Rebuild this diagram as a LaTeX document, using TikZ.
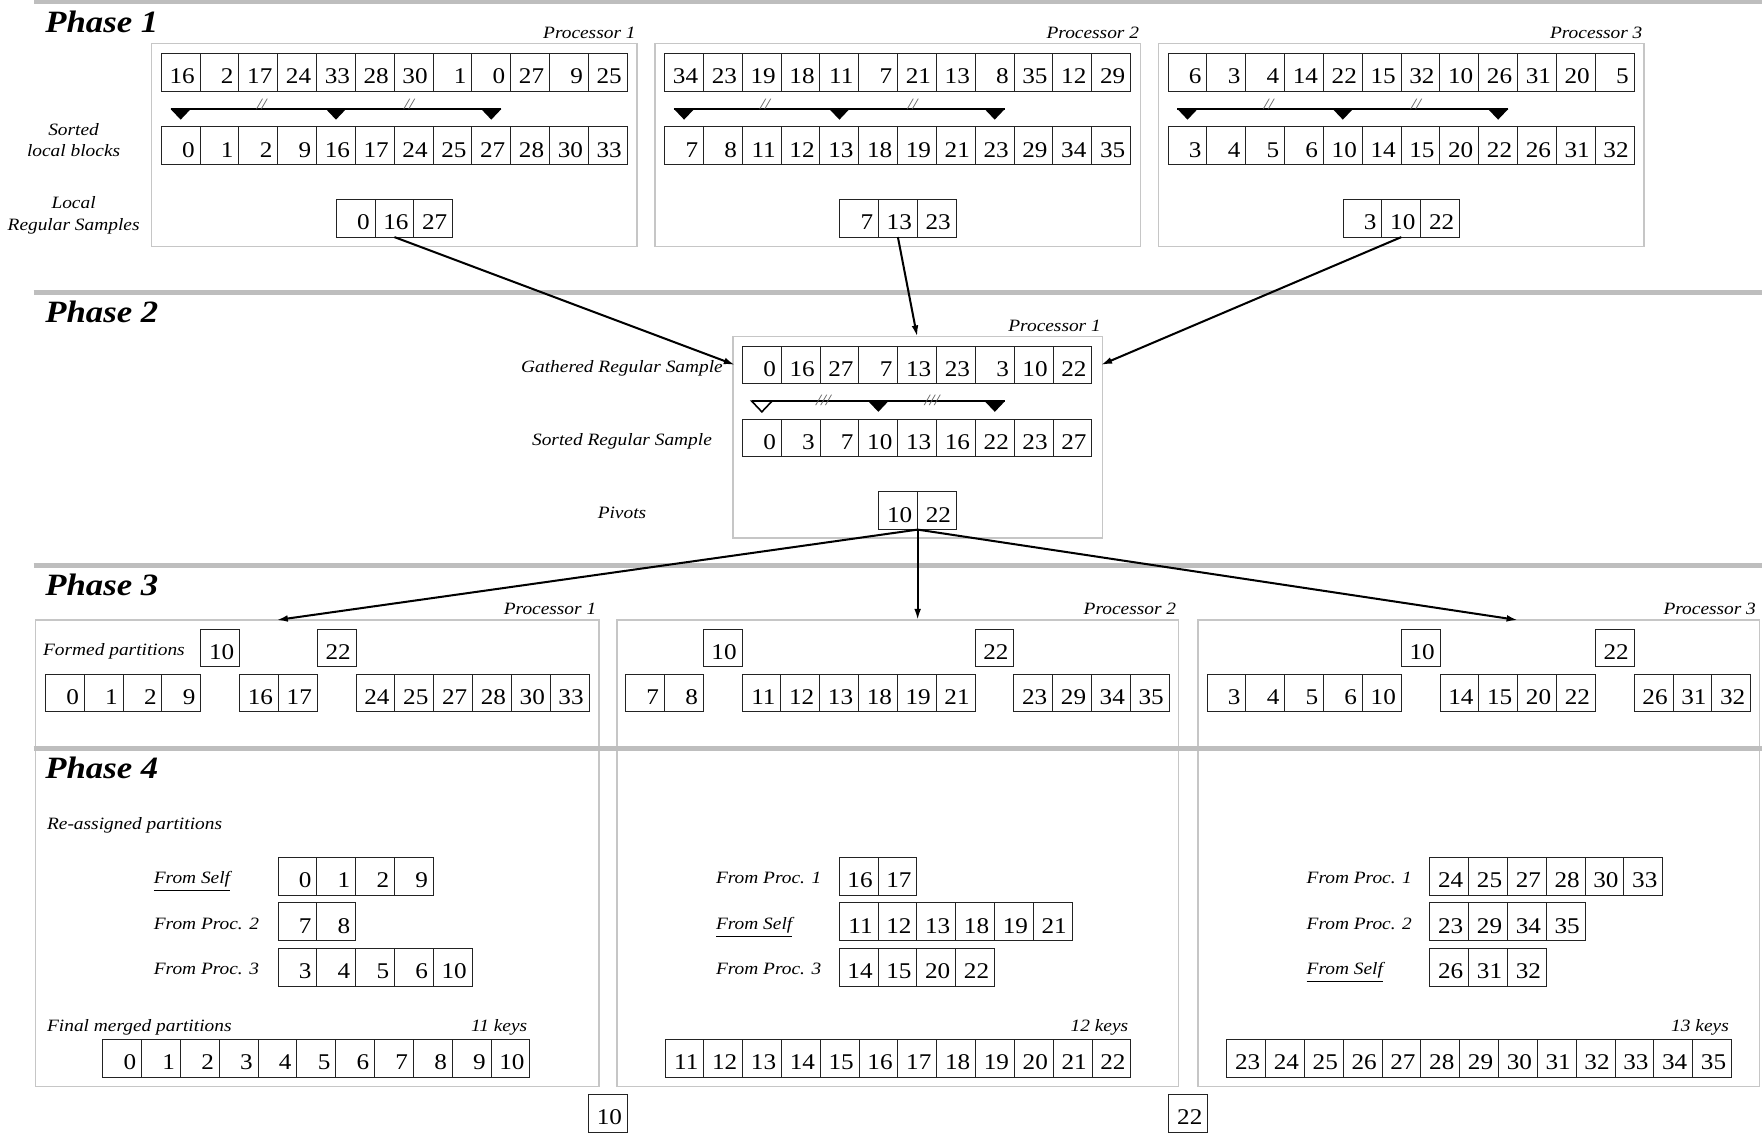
\documentclass[tikz,border=0pt]{standalone}
\usepackage{fontspec}
\setmainfont{Liberation Serif}[FakeStretch=1.12]
\usetikzlibrary{calc,arrows.meta}

\definecolor{phasegray}{RGB}{190,190,190}
\definecolor{boxgray}{RGB}{198,198,198}
\definecolor{cellgray}{RGB}{35,35,35}
\definecolor{slashgray}{RGB}{90,90,90}

\tikzset{
  keycell/.style={draw=cellgray, line width=0.45pt, anchor=north west,
    minimum width=17.275pt, minimum height=16.75pt, inner xsep=2.4pt, inner ysep=0pt, outer sep=0pt,
    text width=12.475pt, align=right, text height=10.15pt, text depth=0pt,
    font=\fontsize{10}{12}\selectfont},
  procbox/.style={draw=boxgray, line width=0.6pt, anchor=north west, inner sep=0pt, outer sep=0pt},
  phaseln/.style={draw=phasegray, line width=2.2pt},
  phasetitle/.style={font=\bfseries\itshape\fontsize{13.8}{16}\selectfont, inner sep=0pt, anchor=base west},
  lab/.style={font=\itshape\fontsize{7.7}{9.5}\selectfont, inner sep=0pt},
  markline/.style={draw=black, line width=1pt},
  slashmark/.style={font=\itshape\fontsize{7}{7}\selectfont, text=slashgray, inner sep=0pt},
  arr/.style={draw=black, line width=0.9pt, -{Latex[length=5pt,width=3pt]}},
}

\newcommand{\keyrow}[4]{%
  \foreach \kv [count=\ki from 0] in {#4}{%
    \node[keycell] (#1-\ki) at ({#2+34.55*\ki},#3) {\kv};
  }%
}

\newcommand{\markbar}[7]{%
  \coordinate (#1-m0) at ($(#1-#2.north)+(0,-16)$);
  \coordinate (#1-m1) at ($(#1-#3.north)+(0,-16)$);
  \coordinate (#1-m2) at ($(#1-#4.north)+(0,-16)$);
  \draw[markline] ($(#1-m0)+(-9,0)$) -- ($(#1-m2)+(9,0)$);
  \path[#6] ($(#1-m0)+(-9,0)$) -- ($(#1-m0)+(9,0)$) -- ($(#1-m0)+(0,9.5)$) -- cycle;
  \fill ($(#1-m1)+(-9,0)$) -- ($(#1-m1)+(9,0)$) -- ($(#1-m1)+(0,9.5)$) -- cycle;
  \fill ($(#1-m2)+(-9,0)$) -- ($(#1-m2)+(9,0)$) -- ($(#1-m2)+(0,9.5)$) -- cycle;
  \node[slashmark] at ($(#1-m0)!0.5!(#1-m1)+(3,#7)$) {#5};
  \node[slashmark] at ($(#1-m1)!0.5!(#1-m2)+(-4,#7)$) {#5};
}

\begin{document}
\begin{tikzpicture}[x=0.5pt,y=-0.5pt]
\useasboundingbox (0,0) rectangle (1568,1021);

% ---------- processor boxes ----------
\node[procbox, minimum width=216pt, minimum height=90.25pt] (PA) at (135,39) {};
\node[procbox, minimum width=216pt, minimum height=90.25pt] (PB) at (583,39) {};
\node[procbox, minimum width=216pt, minimum height=90.25pt] (PC) at (1031,39) {};
\node[procbox, minimum width=164.35pt, minimum height=89.6pt] (QA) at (652.3,299.6) {};
\node[procbox, minimum width=250.65pt, minimum height=207.6pt] (RA) at (31.7,551.8) {};
\node[procbox, minimum width=250pt, minimum height=207.6pt] (RB) at (549,551.8) {};
\node[procbox, minimum width=250pt, minimum height=207.6pt] (RC) at (1066,551.8) {};

% ---------- phase separators ----------
\draw[phaseln] (30,1.5) -- (1568,1.5);
\draw[phaseln] (30,260) -- (1568,260);
\draw[phaseln] (30,503) -- (1568,503);
\draw[phaseln] (30,666) -- (1568,666);

\node[phasetitle] (T1) at (40,28.5) {Phase 1};
\node[phasetitle] (T2) at (40,287) {Phase 2};
\node[phasetitle] (T3) at (40,530) {Phase 3};
\node[phasetitle] (T4) at (40,693) {Phase 4};

% ---------- processor labels ----------
\node[lab, anchor=base east] (LA) at (566,34) {Processor 1};
\node[lab, anchor=base east] (LB) at (1014,34) {Processor 2};
\node[lab, anchor=base east] (LC) at (1462,34) {Processor 3};
\node[lab, anchor=base east] (LQ) at (980,294.6) {Processor 1};
\node[lab, anchor=base east] (LRA) at (531,546.8) {Processor 1};
\node[lab, anchor=base east] (LRB) at (1047,546.8) {Processor 2};
\node[lab, anchor=base east] (LRC) at (1563,546.8) {Processor 3};

% ---------- Phase 1 ----------
\node[lab, anchor=base] (s1) at (65.5,121) {Sorted};
\node[lab, anchor=base] (s2) at (65.5,139.5) {local blocks};
\node[lab, anchor=base] (s3) at (65.5,185.4) {Local};
\node[lab, anchor=base] (s4) at (65.5,204.7) {Regular Samples};

\keyrow{aU}{143.5}{47.5}{16,2,17,24,33,28,30,1,0,27,9,25}
\keyrow{aS}{143.5}{113}{0,1,2,9,16,17,24,25,27,28,30,33}
\keyrow{aR}{299.2}{177.5}{0,16,27}
\keyrow{bU}{591.5}{47.5}{34,23,19,18,11,7,21,13,8,35,12,29}
\keyrow{bS}{591.5}{113}{7,8,11,12,13,18,19,21,23,29,34,35}
\keyrow{bR}{747.2}{177.5}{7,13,23}
\keyrow{cU}{1039.5}{47.5}{6,3,4,14,22,15,32,10,26,31,20,5}
\keyrow{cS}{1039.5}{113}{3,4,5,6,10,14,15,20,22,26,31,32}
\keyrow{cR}{1195.2}{177.5}{3,10,22}

\markbar{aS}{0}{4}{8}{//}{fill=black}{-4}
\markbar{bS}{0}{4}{8}{//}{fill=black}{-4}
\markbar{cS}{0}{4}{8}{//}{fill=black}{-4}

% ---------- Phase 2 ----------
\node[lab, anchor=base] (g1) at (553.5,331.6) {Gathered Regular Sample};
\node[lab, anchor=base] (g2) at (553.5,396.6) {Sorted Regular Sample};
\node[lab, anchor=base] (g3) at (553.5,461.3) {Pivots};

\keyrow{gG}{660.7}{308}{0,16,27,7,13,23,3,10,22}
\keyrow{gS}{660.7}{373}{0,3,7,10,13,16,22,23,27}
\keyrow{gP}{782.05}{437.8}{10,22}
\markbar{gS}{0}{3}{6}{///}{draw=black,fill=white,line width=0.7pt}{-1}

% ---------- Phase 3 ----------
\node[lab, anchor=base west] (fp) at (38,583.5) {Formed partitions};
\keyrow{pAa}{40.5}{600}{0,1,2,9}
\keyrow{pAx}{178.7}{559.8}{10}
\keyrow{pAb}{213.25}{600}{16,17}
\keyrow{pAy}{282.35}{559.8}{22}
\keyrow{pAc}{316.9}{600}{24,25,27,28,30,33}
\keyrow{pBa}{556.7}{600}{7,8}
\keyrow{pBx}{625.8}{559.8}{10}
\keyrow{pBb}{660.35}{600}{11,12,13,18,19,21}
\keyrow{pBy}{867.65}{559.8}{22}
\keyrow{pBc}{902.2}{600}{23,29,34,35}
\keyrow{pCa}{1074.2}{600}{3,4,5,6,10}
\keyrow{pCx}{1246.95}{559.8}{10}
\keyrow{pCb}{1281.5}{600}{14,15,20,22}
\keyrow{pCy}{1419.7}{559.8}{22}
\keyrow{pCc}{1454.25}{600}{26,31,32}

% ---------- Phase 4 ----------
\node[lab, anchor=base west] (ra) at (41.5,738) {Re-assigned partitions};

\node[lab, anchor=base west] (a1) at (136.5,786.5) {\underline{From Self}};
\node[lab, anchor=base west] (a2) at (136.5,827) {From Proc. 2};
\node[lab, anchor=base west] (a3) at (136.5,867.5) {From Proc. 3};
\keyrow{rA1}{247.4}{763}{0,1,2,9}
\keyrow{rA2}{247.4}{803.5}{7,8}
\keyrow{rA3}{247.4}{844}{3,4,5,6,10}

\node[lab, anchor=base west] (b1) at (636.8,786.5) {From Proc. 1};
\node[lab, anchor=base west] (b2) at (636.8,827) {\underline{From Self}};
\node[lab, anchor=base west] (b3) at (636.8,867.5) {From Proc. 3};
\keyrow{rB1}{746.8}{763}{16,17}
\keyrow{rB2}{746.8}{803.5}{11,12,13,18,19,21}
\keyrow{rB3}{746.8}{844}{14,15,20,22}

\node[lab, anchor=base west] (c1) at (1162.4,786.5) {From Proc. 1};
\node[lab, anchor=base west] (c2) at (1162.4,827) {From Proc. 2};
\node[lab, anchor=base west] (c3) at (1162.4,867.5) {\underline{From Self}};
\keyrow{rC1}{1272.4}{763}{24,25,27,28,30,33}
\keyrow{rC2}{1272.4}{803.5}{23,29,34,35}
\keyrow{rC3}{1272.4}{844}{26,31,32}

\node[lab, anchor=base west] (fm) at (41.5,918) {Final merged partitions};
\keyrow{fA}{91.5}{925}{0,1,2,3,4,5,6,7,8,9,10}
\keyrow{fB}{591.8}{925}{11,12,13,14,15,16,17,18,19,20,21,22}
\keyrow{fC}{1091.7}{925}{23,24,25,26,27,28,29,30,31,32,33,34,35}
\node[lab, anchor=base east] (kA) at ($(fA-10.north east)+(-2,-7)$) {11 keys};
\node[lab, anchor=base east] (kB) at ($(fB-11.north east)+(-2,-7)$) {12 keys};
\node[lab, anchor=base east] (kC) at ($(fC-12.north east)+(-2,-7)$) {13 keys};

% bottom pivots
\keyrow{zA}{523.7}{974}{10}
\keyrow{zB}{1040.2}{974}{22}

% ---------- arrows ----------
\draw[arr] (aR-1.south) -- ([xshift=-3.3pt]gG-0.west);
\draw[arr] (bR-1.south) -- (gG-4.north |- QA.north);
\draw[arr] (cR-1.south) -- ([xshift=4pt]gG-8.east);

\coordinate (pv) at (gP-0.south east);
\coordinate (toA) at (246.2,551.8);
\coordinate (toC) at (1350.7,551.8);
\draw[arr] (pv) -- (toA);
\draw[arr] (pv) -- (pv |- RB.north);
\draw[arr] (pv) -- (toC);

\end{tikzpicture}
\end{document}
